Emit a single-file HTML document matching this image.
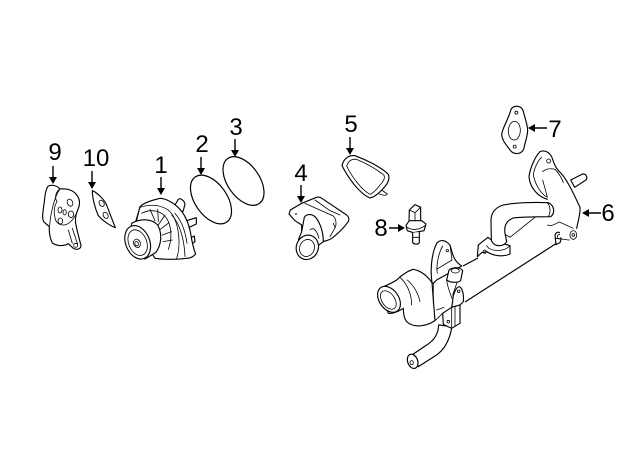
<!DOCTYPE html>
<html>
<head>
<meta charset="utf-8">
<style>
html,body{margin:0;padding:0;background:#fff;width:640px;height:471px;overflow:hidden}
svg{display:block}
text{font-family:"Liberation Sans",sans-serif;font-size:24px;fill:#000;text-anchor:middle}
.z{fill:none;stroke:#000;stroke-width:3.4;stroke-linejoin:round;stroke-linecap:round}
.w{fill:#fff}
.t{stroke-width:2.4}
.a{stroke:#000;stroke-width:1.4;fill:none}
</style>
</head>
<body>
<svg width="640" height="471" viewBox="0 0 640 471" xmlns="http://www.w3.org/2000/svg">
<!-- labels -->
<text x="55" y="160">9</text>
<text x="96" y="166">10</text>
<text x="161" y="173">1</text>
<text x="202" y="152">2</text>
<text x="236" y="135">3</text>
<text x="301" y="181">4</text>
<text x="351" y="132">5</text>
<text x="381" y="236">8</text>
<text x="555" y="137">7</text>
<text x="608" y="221">6</text>

<!-- arrows -->
<g class="a">
<path d="M53 166V178M92 171V183M161 177V189M201 157V169M235 139V151M301 185V197M350 137V149M389 228H399M547 128H534M601 213H588"/>
</g>
<g fill="#000">
<path d="M49 177H57L53 184ZM88 182H96L92 189ZM157 188H165L161 195ZM197 168H205L201 175ZM231 150H239L235 157ZM297 196H305L301 203ZM346 148H354L350 155ZM398 224V232L405 228ZM535 124V132L528 128ZM589 209V217L582 213Z"/>
</g>

<!-- rings 2 and 3 -->
<ellipse cx="211" cy="199.500" rx="27.500" ry="16" transform="rotate(55 211 199.500)" fill="none" stroke="#000" stroke-width="1.2"/>
<ellipse cx="243.500" cy="181" rx="27.500" ry="16" transform="rotate(55 243.500 181)" fill="none" stroke="#000" stroke-width="1.2"/>

<!-- part 9, 10 -->
<g transform="translate(35,175) scale(.3333)">
<path class="z w" d="M40 33C55 28 65 32 75 42C95 40 115 45 125 60C135 72 136 88 128 105C122 118 118 135 125 160L138 212C138 222 125 226 115 220L100 206C85 215 65 213 52 204C45 190 42 170 43 155L26 140C20 128 24 110 28 80C30 60 32 42 40 33Z"/>
<path class="z t" d="M75 42C62 50 58 68 66 80C58 92 55 110 60 128C62 142 72 150 85 150C100 150 118 135 128 105"/>
<path class="z t" d="M43 155C45 150 45 130 50 110C55 85 62 60 75 42"/>
<ellipse class="z t" cx="105" cy="83" rx="8" ry="11" transform="rotate(-25 105 83)"/>
<ellipse class="z t" cx="108" cy="118" rx="8" ry="10"/>
<ellipse class="z t" cx="75" cy="105" rx="6" ry="9"/>
<ellipse class="z t" cx="89" cy="112" rx="5" ry="8"/>
<ellipse class="z t" cx="76" cy="138" rx="7" ry="9"/>
<path class="z t" d="M112 160L128 208M100 165L112 205"/>
<circle class="z t" cx="122" cy="211" r="6"/>
<path class="z" d="M172 47C185 52 205 70 214 88L241 158C232 155 205 140 190 122C180 100 172 70 172 47Z"/>
<ellipse class="z t" cx="200" cy="85" rx="7" ry="10" transform="rotate(-30 200 85)"/>
<ellipse class="z t" cx="212" cy="121" rx="7" ry="10" transform="rotate(-30 212 121)"/>
</g>

<!-- pump 1 -->
<g transform="translate(125,190) scale(.3333)">
<path class="z w" d="M150 45L160 28C165 22 178 32 180 42L175 62L165 72Z"/>
<path class="z w" d="M175 95L214 83L214 102L180 118Z"/>
<path class="z w" d="M185 150L208 138L210 155L190 168Z"/>
<path class="z w" d="M45 50C60 36 85 30 105 25C125 26 148 40 162 55C182 75 192 105 197 130C200 150 205 175 212 192C205 200 195 205 185 205C150 210 110 208 90 205L30 110Z"/>
<path class="z t" d="M45 50L30 100M45 52C75 42 105 44 130 60C150 78 160 110 162 150C163 175 160 190 155 205"/>
<path class="z t" d="M50 70C78 55 110 62 125 85C140 110 142 145 130 178"/>
<path class="z t" d="M75 58L90 92M98 58L100 95M120 75L100 105M132 98L106 118M140 125L112 135M142 150L115 155"/>
<path class="z t" d="M140 75C165 100 178 150 180 200M150 70C172 95 182 130 186 160"/>
<path class="z w" d="M20 100C45 85 80 85 98 105C112 130 110 165 92 188L60 207C40 200 20 180 10 160Z"/>
<ellipse class="z w" cx="38" cy="157" rx="36" ry="52" transform="rotate(-22 38 157)"/>
<ellipse class="z t" cx="38" cy="158" rx="27" ry="40" transform="rotate(-22 38 158)"/>
<ellipse class="z t" cx="36" cy="160" rx="10" ry="13" transform="rotate(-22 36 160)"/>
<ellipse class="z t" cx="35" cy="161" rx="5" ry="7" transform="rotate(-22 35 161)"/>
</g>

<!-- 5, 8 -->
<g transform="translate(280,100) scale(.3333)">
<path class="z w" d="M186 197C190 178 205 164 225 167C260 180 300 200 322 220C332 230 325 248 316 258C305 272 285 292 270 294C240 282 205 235 186 197Z"/>
<path class="z t" d="M200 198C205 183 215 176 230 178C258 190 290 207 312 226C316 235 310 245 300 255C290 268 280 280 270 283C245 270 215 230 200 198Z"/>
<path class="z t" d="M305 270L322 282C320 288 308 286 298 282"/>
<path class="z w" d="M387 368L388 330L405 314L422 322L422 368"/>
<path class="z t" d="M388 330L405 338L422 322M405 338V370"/>
<path class="z w" d="M378 376L388 362L425 362L438 372L432 392L400 398L382 392Z"/>
<path class="z t" d="M382 382C395 392 420 390 436 376"/>
<path class="z w" d="M398 398V428C403 434 415 434 418 428V396"/>
<path class="z t" d="M398 412H418"/>
</g>

<!-- 4 -->
<g transform="translate(285,190) scale(.3333)">
<path class="z w" d="M12 72L16 60L50 40L95 22C102 20 108 23 112 26L185 75C193 82 194 92 186 100C175 115 165 125 150 137C140 148 125 153 112 155L100 140L50 125L50 105L30 92Z"/>
<path class="z t" d="M60 40L145 78C152 85 155 95 152 110L135 140M90 30L135 62L165 75"/>
<path class="z w" d="M50 125L58 82C64 72 80 70 92 82C105 98 115 125 115 155L95 170L40 150Z"/>
<path class="z t" d="M75 120C85 110 95 120 102 145"/>
<circle cx="33" cy="72" r="2.500" fill="#000"/>
<path class="z t" d="M145 100L150 112"/>
<ellipse class="z w" cx="67" cy="172" rx="33" ry="37" transform="rotate(20 67 172)"/>
<ellipse class="z t" cx="66" cy="174" rx="22" ry="26" transform="rotate(20 66 174)"/>
</g>

<!-- part 7 -->
<g transform="translate(460,100) scale(.3333)">
<path class="z w" d="M153 28C162 14 185 16 190 34C195 55 202 72 203 90C203 110 195 125 192 145C185 165 160 165 150 150C140 135 128 125 125 105C126 85 145 60 153 28Z"/>
<ellipse class="z t" cx="163" cy="92" rx="18" ry="28" transform="rotate(3 163 92)"/>
<circle class="z t" cx="169" cy="38" r="4.500"/>
<circle class="z t" cx="164" cy="140" r="4.500"/>
</g>

<!-- rail lines -->
<path fill="none" stroke="#000" stroke-width="1.2" d="M463 266L478 258M465 302L557 243"/>

<!-- part 6 upper -->
<g transform="translate(460,100) scale(.3333)">
<path class="z w" d="M332 240L368 222C378 220 384 232 378 240L344 262Z"/>
<path class="z w" d="M262 298C235 290 210 265 207 230C210 205 225 170 240 155C255 148 272 158 278 178C283 195 288 205 305 222C325 245 345 290 360 322C362 340 355 360 350 385L352 405L300 380L262 350Z" style="stroke:none"/>
<path class="z" d="M262 298C235 290 210 265 207 230C210 205 225 170 240 155C255 148 272 158 278 178C283 195 288 205 305 222C325 245 345 290 360 322C362 340 355 360 350 385"/>
<path class="z t" d="M220 225C222 205 235 180 245 172M248 215C258 205 272 205 285 208C292 215 305 232 310 248M220 225C225 250 240 280 262 292M248 240C252 255 258 275 262 292"/>
<circle class="z t" cx="266" cy="183" r="6"/>
<!-- bracket -->
<path class="z t" d="M262 375C275 380 285 372 298 366L340 385"/>
<path class="z w" d="M285 405C290 392 305 395 306 410L300 428L288 434Z"/>
<ellipse class="z t" cx="297" cy="410" rx="5" ry="7"/>
<path class="z w" d="M300 385L335 392L350 400L350 415C345 425 335 428 328 420L310 420L300 410Z" style="stroke:none"/>
<path class="z t" d="M285 415C300 415 320 420 328 420"/>
<ellipse class="z t w" cx="340" cy="405" rx="10" ry="13"/>
<circle class="z t" cx="340" cy="405" r="4"/>
<!-- flange -->
<path class="z w" d="M52 470L55 435L84 412L94 420L150 437L150 462C130 472 100 468 80 455L65 458Z"/>
<circle class="z t" cx="74" cy="455" r="5"/>
<!-- triangular web -->
<path class="z t" d="M135 403L150 412L225 352"/>
<!-- elbow pipe -->
<path class="z w" d="M265 308C220 306 165 308 130 315C105 322 92 340 93 365L94 420C100 442 130 442 140 425L135 400C132 380 138 362 160 354C190 350 230 350 272 350C285 340 285 318 265 308Z"/>
<path class="z t" d="M262 308C272 318 272 340 265 350"/>
<path class="z t" d="M80 437C90 455 130 458 150 437"/>
</g>

<!-- left housing and lower hose -->
<g transform="translate(370,230) scale(.3333)">
<path class="z w" d="M206 285C205 310 195 330 170 345L130 372L145 410L195 378C225 360 240 325 246 290Z"/>
<ellipse class="z w" cx="128" cy="394" rx="15" ry="22" transform="rotate(-20 128 394)"/>
<ellipse class="z t" cx="125" cy="398" rx="5" ry="6"/>
<!-- housing -->
<path class="z w" d="M80 150C95 135 115 122 130 118C150 122 170 135 186 158L195 272C160 295 125 290 110 275C100 262 100 245 100 235C85 245 70 252 55 250L30 175C45 168 65 160 80 150Z"/>
<path class="z t" d="M90 142C110 160 125 190 125 225M112 150C130 165 145 190 150 215"/>
<ellipse class="z w" cx="57" cy="208" rx="29" ry="43" transform="rotate(-35 57 208)"/>
<ellipse class="z t" cx="55" cy="210" rx="19" ry="31" transform="rotate(-35 55 210)"/>
<!-- tall flange -->
<path class="z w" d="M186 158C180 120 185 70 200 40C210 28 225 28 240 45C248 70 248 90 275 108L200 150L190 160Z"/>
<path class="z t" d="M190 220V160M202 130C198 110 205 70 218 48M240 45L246 90L200 118"/>
<circle class="z t" cx="232" cy="62" r="3.500"/>
<!-- rail upper boss -->
<path class="z w" d="M228 150C240 165 245 190 248 215L280 200C282 180 278 165 272 152Z" style="stroke:none"/>
<path class="z t" d="M230 150C232 168 240 190 246 205M262 155L248 195"/>
<path class="z w" d="M236 125C236 112 270 108 278 122L272 152C260 160 240 158 230 150Z"/>
<ellipse class="z t" cx="256" cy="122" rx="12" ry="7"/>
<path class="z w" d="M248 215C248 195 258 170 268 170C278 175 282 195 280 215L270 225L245 232Z"/>
<circle class="z t" cx="266" cy="184" r="4"/>
<!-- clamp -->
<path class="z t" d="M195 272L218 250M200 240L222 232"/>
<path class="z w" d="M218 250L245 232L270 225L270 280L245 295L220 283Z"/>
<path class="z t" d="M245 232V295M255 228V288"/>
<circle class="z t" cx="235" cy="275" r="4"/>
</g>
</svg>
</body>
</html>
